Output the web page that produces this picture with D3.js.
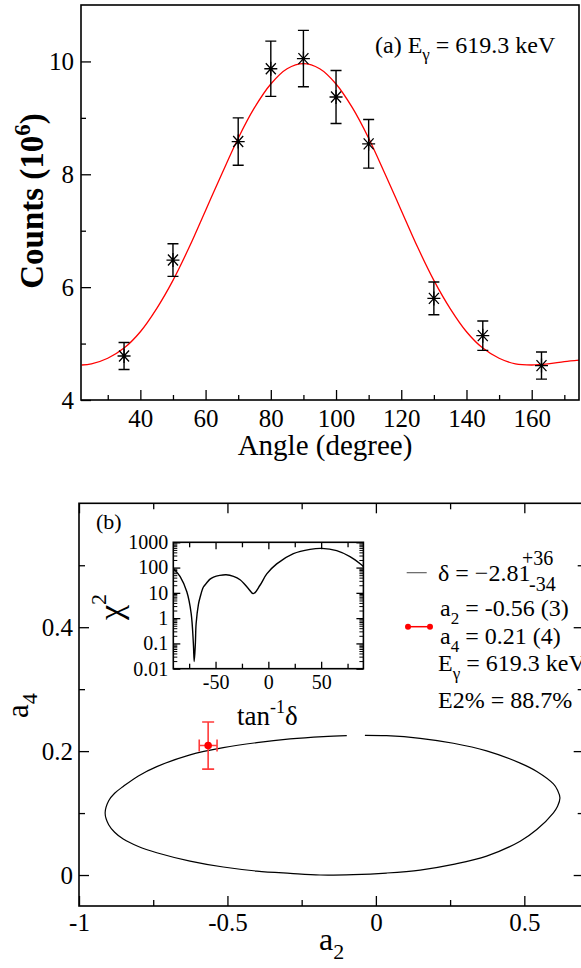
<!DOCTYPE html>
<html><head><meta charset="utf-8">
<script src="https://cdn.jsdelivr.net/npm/d3@7/dist/d3.min.js"></script>
<style>body{margin:0;background:#fff}svg{display:block}text{font-family:"Liberation Serif","DejaVu Serif","Noto Serif","Times New Roman",Times,serif}</style>
</head><body>
<script>
// ---------- Panel (a) data ----------
const angles   = [35, 50, 70, 80, 90, 100, 110, 130, 145, 163];
const counts   = [4.78, 6.48, 8.58, 9.87, 10.05, 9.37, 8.54, 5.80, 5.14, 4.61];
const countErr = [0.24, 0.29, 0.42, 0.49, 0.50, 0.47, 0.43, 0.29, 0.26, 0.24];
const fitAngles = [22,25,30,35,40,45,50,55,60,65,70,75,80,85,90,95,100,105,110,115,120,125,130,135,140,145,150,155,160,165,170,175];
const fitCounts = [4.62,4.64,4.74,4.92,5.21,5.62,6.12,6.71,7.36,8.01,8.64,9.18,9.60,9.87,9.96,9.87,9.60,9.18,8.64,8.01,7.36,6.71,6.12,5.62,5.21,4.92,4.74,4.64,4.62,4.64,4.68,4.71];
const xTicksA = [40, 60, 80, 100, 120, 140, 160];
const xMinorA = [30, 50, 70, 90, 110, 130, 150, 170];
const yTicksA = [4, 6, 8, 10];
const yMinorA = [5, 7, 9];

// ---------- Panel (b) data ----------
const ellipseA2 = [-0.037,0.036,0.149,0.261,0.373,0.486,0.542,0.598,0.612,0.620,0.612,0.598,0.542,0.486,0.373,0.261,0.149,0.036,-0.076,-0.188,-0.289,-0.401,-0.514,-0.626,-0.738,-0.800,-0.851,-0.880,-0.900,-0.912,-0.900,-0.880,-0.851,-0.800,-0.738,-0.626,-0.514,-0.401,-0.289,-0.177,-0.098];
const ellipseA4 = [0.2255,0.2249,0.2207,0.2127,0.2003,0.1806,0.1671,0.1470,0.1370,0.1243,0.1110,0.1005,0.0734,0.0546,0.0305,0.0172,0.0080,0.0032,0.0006,0.0,0.0027,0.0064,0.0129,0.0225,0.0360,0.0460,0.0580,0.0690,0.0810,0.1000,0.1200,0.1320,0.1430,0.1600,0.1750,0.1940,0.2056,0.2137,0.2196,0.2233,0.2249];
const expA2 = -0.565, expA2Err = 0.03;
const expA4 = 0.209, expA4Err = 0.038;
const xTicksB = [-1, -0.5, 0, 0.5];
const xMinorB = [-0.75, -0.25, 0.25];
const yTicksB = [0, 0.2, 0.4];
const yMinorB = [0.1, 0.3, 0.5];

// ---------- Inset data ----------
const chiAngle = [-90,-83.5,-77.2,-73.1,-71.0,-70.2,-69.1,-68.4,-66.2,-64.5,-61.5,-58.3,-55.2,-51.9,-46,-40,-33,-26.8,-19,-14.2,-7.9,-1.5,7.9,23.7,39.5,50.5,64.7,77.3,88.4,90];
const chiValue = [93,44,11,1.55,0.1,0.019,0.1,0.6,3.5,7,17,25,35,42,49,52,45,33,15,9.3,20,56,140,355,525,575,468,270,126,110];
const xTicksI = [-50, 0, 50];
const xMinorI = [-75, -25, 25, 75];
const yTicksI = [0.01, 0.1, 1, 10, 100, 1000];
const yTickLabelsI = ["0.01","0.1","1","10","100","1000"];

const FONT = '"Liberation Serif","DejaVu Serif","Noto Serif","Times New Roman",Times,serif';
const svg = d3.select("body").append("svg").attr("width", 581).attr("height", 968);

function styleAxis(g, size) {
  g.attr("font-family", null).attr("font-size", null);
  g.select(".domain").remove();
  g.selectAll("line").attr("stroke", "#000").attr("stroke-width", 1.3);
  g.selectAll("text").style("font-family", FONT).attr("font-size", size).attr("fill", "#000");
}

// ================= Panel (a) =================
const xA = d3.scaleLinear().domain([21.8, 174.5]).range([81, 579]);
const yA = d3.scaleLinear().domain([4, 11]).range([400, 5]);

svg.append("g").attr("transform", "translate(0,400)")
  .call(d3.axisBottom(xA).tickValues(xTicksA).tickSize(-10).tickPadding(9).tickFormat(d3.format("d")))
  .call(g => styleAxis(g, 25));
svg.append("g").attr("transform", "translate(0,400)")
  .call(d3.axisBottom(xA).tickValues(xMinorA).tickSize(-5).tickFormat(""))
  .call(g => styleAxis(g, 25));
svg.append("g").attr("transform", "translate(81,0)")
  .call(d3.axisLeft(yA).tickValues(yTicksA).tickSize(-10).tickPadding(7).tickFormat(d3.format("d")))
  .call(g => styleAxis(g, 25));
svg.append("g").attr("transform", "translate(81,0)")
  .call(d3.axisLeft(yA).tickValues(yMinorA).tickSize(-5).tickFormat(""))
  .call(g => styleAxis(g, 25));

svg.append("clipPath").attr("id", "clipA").append("rect")
  .attr("x", 81).attr("y", 5).attr("width", 498).attr("height", 395);

const fitData = fitAngles.map((a, i) => ({a, c: fitCounts[i]}));
svg.append("path").datum(fitData)
  .attr("clip-path", "url(#clipA)")
  .attr("fill", "none").attr("stroke", "#ff0000").attr("stroke-width", 1.3)
  .attr("d", d3.line().x(d => xA(d.a)).y(d => yA(d.c)).curve(d3.curveCatmullRom));

const ptsA = angles.map((a, i) => ({a, c: counts[i], e: countErr[i]}));
const gp = svg.append("g").attr("stroke", "#000").attr("fill", "none").attr("stroke-width", 1.4);
ptsA.forEach(d => {
  const cx = xA(d.a), cy = yA(d.c), y1 = yA(d.c + d.e), y2 = yA(d.c - d.e);
  gp.append("path").attr("d", `M${cx},${y1}V${y2}M${cx-5.5},${y1}h11M${cx-5.5},${y2}h11`);
  gp.append("path").attr("stroke-width", 1.3)
    .attr("d", `M${cx-6.5},${cy}h13M${cx-5},${cy-5.5}l10,11M${cx-5},${cy+5.5}l10,-11M${cx},${cy-7}v14`);
});

svg.append("rect").attr("x", 81).attr("y", 5).attr("width", 498).attr("height", 395)
  .attr("fill", "none").attr("stroke", "#000").attr("stroke-width", 1.6);

// labels (a)
svg.append("text").attr("x", 325).attr("y", 455).attr("text-anchor", "middle")
  .attr("font-size", 29).text("Angle (degree)");
const yl = svg.append("text").attr("transform", "translate(43,201) rotate(-90)")
  .attr("text-anchor", "middle").attr("font-size", 33).attr("font-weight", "bold");
yl.append("tspan").text("Counts (10");
yl.append("tspan").attr("font-size", 23).attr("dy", -13).text("6");
yl.append("tspan").attr("dy", 13).text(")");

const la = svg.append("text").attr("x", 375).attr("y", 53).attr("font-size", 24);
la.append("tspan").text("(a) E");
la.append("tspan").attr("font-size", 17).attr("dy", 7).text("γ");
la.append("tspan").attr("dy", -7).text(" = 619.3 keV");

// ================= Panel (b) =================
const xB = d3.scaleLinear().domain([-1, 0.7]).range([79, 583.7]);
const yB = d3.scaleLinear().domain([-0.05, 0.6]).range([906, 503.3]);

svg.append("g").attr("transform", "translate(0,906)")
  .call(d3.axisBottom(xB).tickValues(xTicksB).tickSize(-10).tickPadding(7).tickFormat(d => String(d)))
  .call(g => styleAxis(g, 25));
svg.append("g").attr("transform", "translate(0,906)")
  .call(d3.axisBottom(xB).tickValues(xMinorB).tickSize(-6).tickFormat(""))
  .call(g => styleAxis(g, 25));
svg.append("g").attr("transform", "translate(0,503.3)")
  .call(d3.axisTop(xB).tickValues(xTicksB).tickSize(-10).tickFormat(""))
  .call(g => styleAxis(g, 25));
svg.append("g").attr("transform", "translate(0,503.3)")
  .call(d3.axisTop(xB).tickValues(xMinorB).tickSize(-6).tickFormat(""))
  .call(g => styleAxis(g, 25));
svg.append("g").attr("transform", "translate(79,0)")
  .call(d3.axisLeft(yB).tickValues(yTicksB).tickSize(-10).tickPadding(6).tickFormat(d => String(d)))
  .call(g => styleAxis(g, 25));
svg.append("g").attr("transform", "translate(79,0)")
  .call(d3.axisLeft(yB).tickValues(yMinorB).tickSize(-6).tickFormat(""))
  .call(g => styleAxis(g, 25));
svg.append("g").attr("transform", "translate(583.7,0)")
  .call(d3.axisRight(yB).tickValues(yTicksB).tickSize(-10).tickFormat(""))
  .call(g => styleAxis(g, 25));
svg.append("g").attr("transform", "translate(583.7,0)")
  .call(d3.axisRight(yB).tickValues(yMinorB).tickSize(-6).tickFormat(""))
  .call(g => styleAxis(g, 25));

const ell = ellipseA2.map((a, i) => [a, ellipseA4[i]]);
svg.append("path").datum(ell)
  .attr("fill", "none").attr("stroke", "#000").attr("stroke-width", 1.2)
  .attr("d", d3.line().x(d => xB(d[0])).y(d => yB(d[1])).curve(d3.curveCatmullRom.alpha(0.5)));

// experimental point
const px = xB(expA2), py = yB(expA4);
const gr = svg.append("g").attr("stroke", "#ff3b3b").attr("stroke-width", 1.6).attr("fill", "none");
const vy1 = yB(expA4 + expA4Err), vy2 = yB(expA4 - expA4Err);
const hx1 = xB(expA2 - expA2Err), hx2 = xB(expA2 + expA2Err);
gr.append("path").attr("d", `M${px},${vy1}V${vy2}M${px-6},${vy1}h12M${px-6},${vy2}h12`);
gr.append("path").attr("d", `M${hx1},${py}H${hx2}M${hx1},${py-6}v12M${hx2},${py-6}v12`);
svg.append("circle").attr("cx", px).attr("cy", py).attr("r", 3.8).attr("fill", "#ff0000");

svg.append("rect").attr("x", 79).attr("y", 503.3).attr("width", 504.7).attr("height", 402.7)
  .attr("fill", "none").attr("stroke", "#000").attr("stroke-width", 1.6);

svg.append("text").attr("x", 96).attr("y", 529).attr("font-size", 22).text("(b)");

// axis titles (b)
const xl = svg.append("text").attr("x", 319).attr("y", 950).attr("font-size", 32);
xl.append("tspan").text("a");
xl.append("tspan").attr("font-size", 22).attr("dy", 9).text("2");
const yl2 = svg.append("text").attr("transform", "translate(28,718) rotate(-90)").attr("font-size", 31);
yl2.append("tspan").text("a");
yl2.append("tspan").attr("font-size", 22).attr("dy", 9).text("4");

// legend (b)
svg.append("line").attr("x1", 406.7).attr("x2", 426.7).attr("y1", 572.7).attr("y2", 572.7)
  .attr("stroke", "#555").attr("stroke-width", 1.1);
svg.append("text").attr("x", 438).attr("y", 581).attr("font-size", 24).text("δ = −2.81");
svg.append("text").attr("x", 522).attr("y", 565).attr("font-size", 20).text("+36");
svg.append("text").attr("x", 529).attr("y", 591).attr("font-size", 20).text("-34");

svg.append("line").attr("x1", 408).attr("x2", 430).attr("y1", 626.7).attr("y2", 626.7)
  .attr("stroke", "#ff0000").attr("stroke-width", 1.5);
[408, 430].forEach(x => svg.append("circle").attr("cx", x).attr("cy", 626.7).attr("r", 3).attr("fill", "#ff0000"));

function subText(x, y, main, sub, rest) {
  const t = svg.append("text").attr("x", x).attr("y", y).attr("font-size", 24);
  t.append("tspan").text(main);
  t.append("tspan").attr("font-size", 17).attr("dy", 8).text(sub);
  t.append("tspan").attr("dy", -8).text(rest);
}
subText(440, 616, "a", "2", " = -0.56 (3)");
subText(440, 644, "a", "4", " = 0.21 (4)");
subText(438, 671, "E", "γ", " = 619.3 keV");
svg.append("text").attr("x", 438).attr("y", 708).attr("font-size", 24).text("E2% = 88.7%");

// ================= Inset =================
const xI = d3.scaleLinear().domain([-90, 90]).range([173.3, 363.4]);
const yI = d3.scaleLog().domain([0.01, 1000]).range([668.7, 542.3]);
const yMinorI = [];
[0.01, 0.1, 1, 10, 100].forEach(dec => { for (let k = 2; k <= 9; k++) yMinorI.push(dec * k); });

svg.append("rect").attr("x", 173.3).attr("y", 542.3).attr("width", 190.1).attr("height", 126.4)
  .attr("fill", "#fff");

svg.append("g").attr("transform", "translate(0,668.7)")
  .call(d3.axisBottom(xI).tickValues(xTicksI).tickSize(-7).tickPadding(6).tickFormat(d => String(d)))
  .call(g => styleAxis(g, 20));
svg.append("g").attr("transform", "translate(0,668.7)")
  .call(d3.axisBottom(xI).tickValues(xMinorI).tickSize(-5).tickFormat(""))
  .call(g => styleAxis(g, 20));
svg.append("g").attr("transform", "translate(0,542.3)")
  .call(d3.axisTop(xI).tickValues(xTicksI).tickSize(-7).tickFormat(""))
  .call(g => styleAxis(g, 20));
svg.append("g").attr("transform", "translate(0,542.3)")
  .call(d3.axisTop(xI).tickValues(xMinorI).tickSize(-5).tickFormat(""))
  .call(g => styleAxis(g, 20));
svg.append("g").attr("transform", "translate(173.3,0)")
  .call(d3.axisLeft(yI).tickValues(yTicksI).tickSize(-7).tickPadding(5).tickFormat((d, i) => yTickLabelsI[i]))
  .call(g => styleAxis(g, 20));
svg.append("g").attr("transform", "translate(173.3,0)")
  .call(d3.axisLeft(yI).tickValues(yMinorI).tickSize(-4).tickFormat(""))
  .call(g => styleAxis(g, 20)).selectAll("line").attr("stroke-width", 1);
svg.append("g").attr("transform", "translate(363.4,0)")
  .call(d3.axisRight(yI).tickValues(yTicksI).tickSize(-7).tickFormat(""))
  .call(g => styleAxis(g, 20));
svg.append("g").attr("transform", "translate(363.4,0)")
  .call(d3.axisRight(yI).tickValues(yMinorI).tickSize(-4).tickFormat(""))
  .call(g => styleAxis(g, 20)).selectAll("line").attr("stroke-width", 1);

svg.append("clipPath").attr("id", "clipI").append("rect")
  .attr("x", 173.3).attr("y", 542.3).attr("width", 190.1).attr("height", 126.4);
const chi = chiAngle.map((a, i) => [a, chiValue[i]]);
svg.append("path").datum(chi).attr("clip-path", "url(#clipI)")
  .attr("fill", "none").attr("stroke", "#000").attr("stroke-width", 1.4)
  .attr("d", d3.line().x(d => xI(d[0])).y(d => yI(d[1])).curve(d3.curveCatmullRom.alpha(0.5)));

svg.append("rect").attr("x", 173.3).attr("y", 542.3).attr("width", 190.1).attr("height", 126.4)
  .attr("fill", "none").attr("stroke", "#000").attr("stroke-width", 1.6);

const tl = svg.append("text").attr("x", 237).attr("y", 725).attr("font-size", 27);
tl.append("tspan").text("tan");
tl.append("tspan").attr("font-size", 18).attr("dy", -12).text("-1");
tl.append("tspan").attr("dy", 12).text("δ");

const cl = svg.append("text").attr("transform", "translate(122,620) rotate(-90)").attr("font-size", 34);
cl.append("tspan").text("χ");
cl.append("tspan").attr("font-size", 22).attr("dy", -16).text("2");
</script>
</body></html>
